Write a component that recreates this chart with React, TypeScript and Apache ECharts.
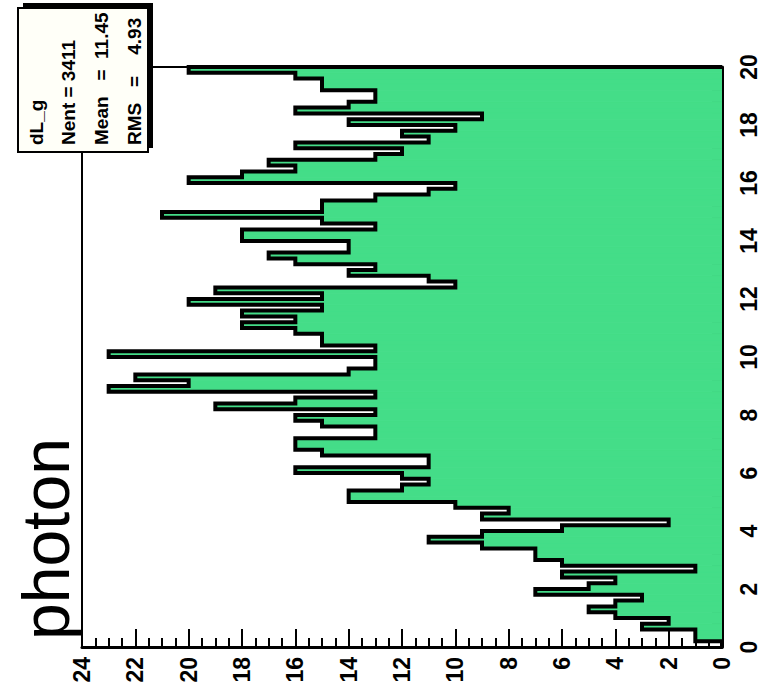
import React, { useEffect, useRef } from 'react';
import * as echarts from 'echarts';

// dL_g histogram: 100 bins of width 0.2 over [0, 20], counts listed from the lowest bin up
const binRange = [0, 20];
const binCounts = [
  0, 1, 1, 3, 2, 4, 5, 4, 3, 7,
  5, 4, 6, 1, 6, 7, 7, 9, 11, 9,
  6, 2, 9, 8, 10, 14, 14, 12, 11, 12,
  16, 11, 11, 15, 16, 16, 13, 13, 15, 16,
  13, 19, 16, 13, 23, 20, 22, 14, 13, 13,
  23, 13, 15, 15, 16, 18, 16, 18, 15, 20,
  15, 19, 10, 11, 14, 13, 16, 17, 14, 14,
  18, 18, 13, 15, 21, 15, 15, 13, 11, 10,
  20, 18, 16, 17, 13, 12, 16, 11, 12, 10,
  14, 9, 16, 14, 13, 13, 15, 15, 16, 20,
];
const countRange = [0, 24];

const histTitle = 'photon';
const statsName = 'dL_g';
const statsLines = ['Nent = 3411', 'Mean   =  11.45', 'RMS   =    4.934'];

const FILL = '#44DD88';
const FONT = 'Liberation Sans, Arial, Helvetica, sans-serif';

export default function App() {
  const ref = useRef<HTMLDivElement>(null);

  useEffect(() => {
    const chart = echarts.init(ref.current!, null, { renderer: 'svg' });
    const nBins = binCounts.length;
    const w = (binRange[1] - binRange[0]) / nBins;
    const bins = binCounts.map((c, i) => [binRange[0] + i * w, binRange[0] + (i + 1) * w, c]);

    // step outline, as drawn by a histogram painter: up from the axis, across every bin, back down
    const outline: number[][] = [[0, binRange[0]]];
    bins.forEach(([lo, hi, c]) => {
      outline.push([c, lo]);
      outline.push([c, hi]);
    });
    outline.push([0, binRange[1]]);

    const rotText = (x: number, y: number, text: string, size: number, weight: string, width?: number) => ({
      type: 'text',
      x,
      y,
      rotation: Math.PI / 2,
      style: {
        text,
        fill: '#000',
        font: `${weight} ${size}px ${FONT}`,
        textAlign: 'left',
        textVerticalAlign: 'middle',
        ...(width ? { width, overflow: 'truncate', ellipsis: '' } : {}),
      },
    });

    const tickLabel = {
      rotate: 90,
      color: '#000',
      fontSize: 23,
      fontWeight: 'bold',
      fontFamily: FONT,
    };

    chart.setOption({
      animation: false,
      backgroundColor: '#ffffff',
      grid: {
        left: 82,
        right: 47,
        top: 67,
        bottom: 51,
        show: true,
        borderColor: '#000',
        borderWidth: 2,
        backgroundColor: 'transparent',
      },
      xAxis: {
        type: 'value',
        inverse: true,
        min: countRange[0],
        max: countRange[1],
        interval: 2,
        axisLine: { show: true, onZero: false, lineStyle: { color: '#000', width: 3 } },
        axisTick: { show: true, inside: true, length: 18, lineStyle: { color: '#000', width: 2 } },
        minorTick: { show: true, splitNumber: 4, length: 9, lineStyle: { color: '#000', width: 2 } },
        axisLabel: { ...tickLabel, margin: 10 },
        splitLine: { show: false },
      },
      yAxis: {
        type: 'value',
        position: 'right',
        min: binRange[0],
        max: binRange[1],
        interval: 2,
        axisLine: { show: true, onZero: false, lineStyle: { color: '#000', width: 3 } },
        axisTick: { show: true, inside: true, length: 18, lineStyle: { color: '#000', width: 2 } },
        minorTick: { show: true, splitNumber: 5, length: 10, lineStyle: { color: '#000', width: 2 } },
        axisLabel: { ...tickLabel, margin: 15 },
        splitLine: { show: false },
      },
      series: [
        {
          type: 'custom',
          data: bins,
          clip: true,
          renderItem: (params: any, api: any) => {
            const lo = api.value(0);
            const hi = api.value(1);
            const c = api.value(2);
            const a = api.coord([0, lo]);
            const b = api.coord([c, hi]);
            return {
              type: 'rect',
              shape: {
                x: Math.min(a[0], b[0]),
                y: Math.min(a[1], b[1]),
                width: Math.abs(b[0] - a[0]),
                height: Math.abs(b[1] - a[1]),
              },
              style: { fill: FILL, stroke: FILL, lineWidth: 1 },
            };
          },
          z: 1,
        },
        {
          type: 'line',
          data: outline,
          symbol: 'none',
          clip: false,
          lineStyle: { color: '#000', width: 4, join: 'miter' },
          z: 3,
        },
      ],
      graphic: [
        // stats box with its drop shadow
        { type: 'rect', shape: { x: 23, y: 3, width: 130, height: 145 }, style: { fill: '#000' }, z: 10 },
        {
          type: 'rect',
          shape: { x: 18, y: 8, width: 130, height: 144 },
          style: { fill: '#fffff8', stroke: '#000', lineWidth: 2 },
          z: 11,
        },
        { ...rotText(36, 145, statsName, 19, 'bold', 136), z: 12 },
        { ...rotText(68, 145, statsLines[0], 19, 'bold', 136), z: 12 },
        { ...rotText(101, 145, statsLines[1], 19, 'bold', 136), z: 12 },
        { ...rotText(134, 145, statsLines[2], 19, 'bold', 136), z: 12 },
        // histogram title
        { ...rotText(46, 640, histTitle, 66, 'normal'), z: 12 },
      ],
    });

    return () => chart.dispose();
  }, []);

  return (
    <div
      ref={ref}
      style={{ position: 'fixed', left: 0, top: 0, width: 769, height: 698, background: '#fff' }}
    />
  );
}
